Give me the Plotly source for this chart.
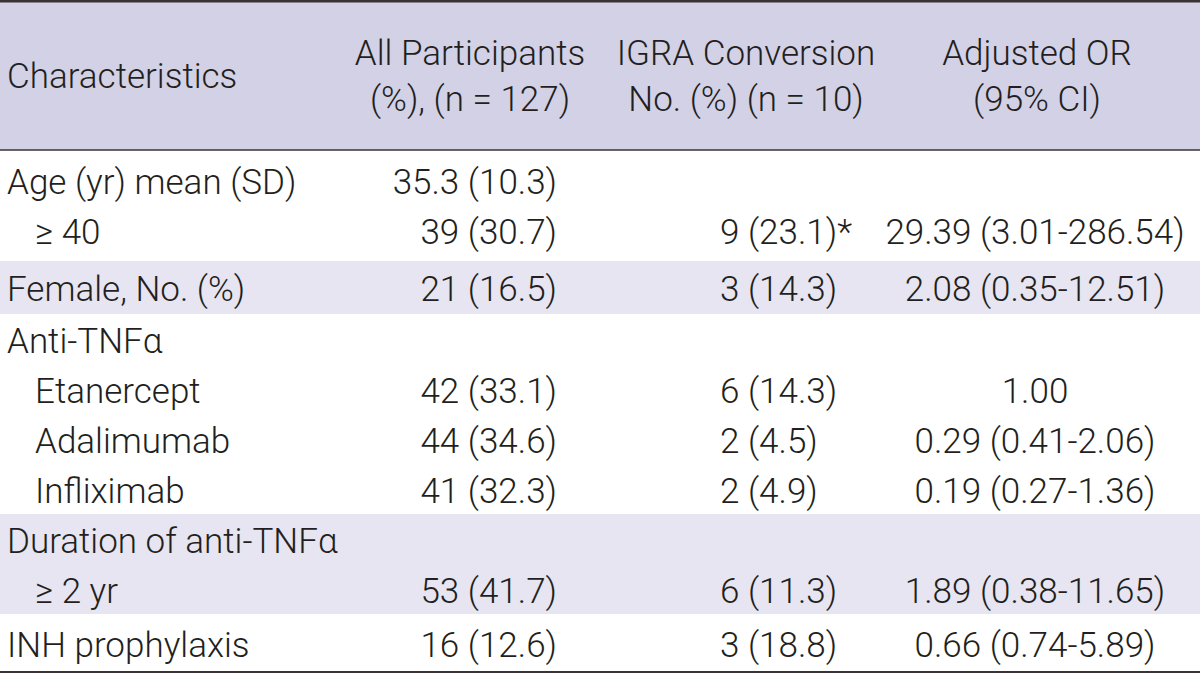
import plotly.graph_objects as go

# ---------------- data ----------------
header_labels = ["Characteristics", "All Participants<br>(%), (n = 127)",
                 "IGRA Conversion<br>No. (%) (n = 10)", "Adjusted OR<br>(95% CI)"]
characteristics = ["Age (yr) mean (SD)", "≥ 40", "Female, No. (%)", "Anti-TNFα",
                   "Etanercept", "Adalimumab", "Infliximab",
                   "Duration of anti-TNFα", "≥ 2 yr", "INH prophylaxis"]
indent_level = [0, 1, 0, 0, 1, 1, 1, 0, 1, 0]
all_participants = ["35.3 (10.3)", "39 (30.7)", "21 (16.5)", "", "42 (33.1)",
                    "44 (34.6)", "41 (32.3)", "", "53 (41.7)", "16 (12.6)"]
igra_conversion = ["", "9 (23.1)*", "3 (14.3)", "", "6 (14.3)", "2 (4.5)",
                   "2 (4.9)", "", "6 (11.3)", "3 (18.8)"]
adjusted_or = ["", "29.39 (3.01-286.54)", "2.08 (0.35-12.51)", "", "1.00",
               "0.29 (0.41-2.06)", "0.19 (0.27-1.36)", "", "1.89 (0.38-11.65)",
               "0.66 (0.74-5.89)"]
row_group = [0, 0, 1, 2, 2, 2, 2, 3, 3, 4]
shaded_groups = [1, 3]

# ---------------- layout / style ----------------
W, H = 1200, 676
FONT = "Roboto, Liberation Sans Narrow, sans-serif"
FS = 35
TXT = "#231f20"
LINE = "#3a3335"
HEAD_BG = "#d3d1e6"
BAND_BG = "#e6e5f1"
TOP = 2
HEADER_BOTTOM = 150
PITCH = 50
group_pad = [5.5, 1.5, 0, 0, 4]
INDENT = 28
col_x = [7, 557, 720, 1035]
text_dy = 5

# compute band extents and line centres
n_groups = max(row_group) + 1
band_top, band_bot = [], []
y = HEADER_BOTTOM
for g in range(n_groups):
    n = row_group.count(g)
    band_top.append(y)
    y += n * PITCH + 2 * group_pad[g]
    band_bot.append(y)
line_y = []
for i, g in enumerate(row_group):
    k = row_group[:i].count(g)
    line_y.append(band_top[g] + group_pad[g] + (k + 0.5) * PITCH + text_dy)

fig = go.Figure()

shapes = [
    dict(type="rect", x0=0, x1=W, y0=TOP, y1=HEADER_BOTTOM, fillcolor=HEAD_BG,
         line=dict(width=0), layer="below"),
]
for g in shaded_groups:
    shapes.append(dict(type="rect", x0=0, x1=W, y0=band_top[g], y1=band_bot[g],
                       fillcolor=BAND_BG, line=dict(width=0), layer="below"))
shapes += [
    dict(type="line", x0=0, x1=W, y0=1, y1=1, line=dict(color=LINE, width=3)),
    dict(type="line", x0=0, x1=W, y0=HEADER_BOTTOM, y1=HEADER_BOTTOM,
         line=dict(color=LINE, width=1.5)),
    dict(type="line", x0=0, x1=W, y0=band_bot[-1], y1=band_bot[-1],
         line=dict(color=LINE, width=2)),
]

font = dict(family=FONT, size=FS, color=TXT, weight=300)
head_y = (TOP + HEADER_BOTTOM) / 2 + 3

# header
fig.add_trace(go.Scatter(x=[col_x[0]], y=[head_y], text=[header_labels[0]],
                         mode="text", textposition="middle right", textfont=font))
fig.add_trace(go.Scatter(x=[470, 746, 1037], y=[head_y] * 3, text=header_labels[1:],
                         mode="text", textposition="middle center", textfont=font))
# body
fig.add_trace(go.Scatter(x=[col_x[0] + INDENT * lv for lv in indent_level], y=line_y,
                         text=characteristics, mode="text",
                         textposition="middle right", textfont=font))
fig.add_trace(go.Scatter(x=[col_x[1]] * len(line_y), y=line_y, text=all_participants,
                         mode="text", textposition="middle left", textfont=font))
fig.add_trace(go.Scatter(x=[col_x[2]] * len(line_y), y=line_y, text=igra_conversion,
                         mode="text", textposition="middle right", textfont=font))
fig.add_trace(go.Scatter(x=[col_x[3]] * len(line_y), y=line_y, text=adjusted_or,
                         mode="text", textposition="middle center", textfont=font))

fig.update_traces(cliponaxis=False, hoverinfo="skip", showlegend=False)
fig.update_layout(
    width=W, height=H, margin=dict(l=0, r=0, t=0, b=0),
    paper_bgcolor="white", plot_bgcolor="white", shapes=shapes,
    xaxis=dict(range=[0, W], visible=False, fixedrange=True),
    yaxis=dict(range=[H, 0], visible=False, fixedrange=True),
)
fig.write_html("out.html", config={"displayModeBar": False},
               post_script="document.body.style.margin='0';")
